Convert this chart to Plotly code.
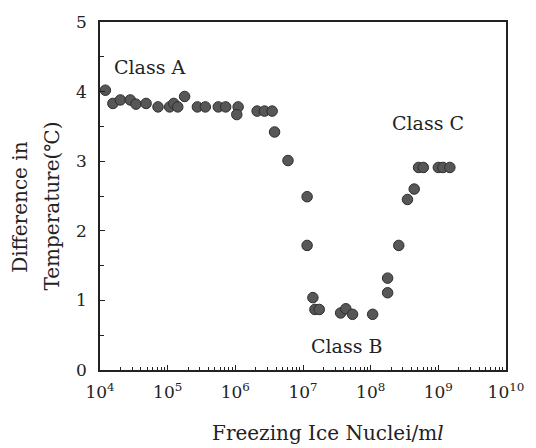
import plotly.graph_objects as go

# Freezing ice nuclei per ml
nuclei = [1.20e4, 1.55e4, 2.0e4, 2.8e4, 3.4e4, 4.8e4, 7.2e4, 1.07e5, 1.23e5, 1.41e5,
          1.78e5, 2.75e5, 3.6e5, 5.6e5, 7.2e5, 1.10e6, 1.05e6, 2.1e6, 2.7e6, 3.5e6,
          3.8e6, 6.0e6, 1.15e7, 1.15e7, 1.4e7, 1.5e7, 1.74e7, 3.6e7, 4.3e7, 5.4e7,
          1.07e8, 1.78e8, 1.78e8, 2.6e8, 3.5e8, 4.4e8, 5.1e8, 6.0e8, 1.0e9, 1.17e9, 1.48e9]
# Difference in temperature (deg C)
temp_diff = [4.02, 3.83, 3.88, 3.88, 3.82, 3.83, 3.78, 3.78, 3.83, 3.78,
             3.93, 3.78, 3.78, 3.78, 3.78, 3.78, 3.67, 3.72, 3.72, 3.72,
             3.42, 3.01, 2.49, 1.79, 1.04, 0.87, 0.87, 0.82, 0.88, 0.80,
             0.80, 1.32, 1.11, 1.79, 2.45, 2.60, 2.91, 2.91, 2.91, 2.91, 2.91]

x_tick_vals = [1e4, 1e5, 1e6, 1e7, 1e8, 1e9, 1e10]
x_tick_text = ["10<sup>4</sup>", "10<sup>5</sup>", "10<sup>6</sup>", "10<sup>7</sup>",
               "10<sup>8</sup>", "10<sup>9</sup>", "10<sup>10</sup>"]
x_minor_vals = [m * 10 ** e for e in range(4, 10) for m in range(2, 10)]

class_labels = ["Class A", "Class B", "Class C"]
class_x = [4.73, 7.65, 8.85]   # log10 positions
class_y = [4.35, 0.35, 3.55]

FONT = "DejaVu Serif"
INK = "#222222"

fig = go.Figure()
fig.add_trace(go.Scatter(
    x=nuclei, y=temp_diff, mode="markers",
    marker=dict(size=10.5, color="#575757", line=dict(color="#2e2e2e", width=1)),
    showlegend=False,
))

for t, xx, yy in zip(class_labels, class_x, class_y):
    fig.add_annotation(x=xx, y=yy, xref="x", yref="y", text=t, showarrow=False,
                       font=dict(family=FONT, size=19, color=INK))

# axis titles
fig.add_annotation(x=-0.196, y=0.47, xref="paper", yref="paper", text="Difference in",
                   textangle=-90, showarrow=False, xanchor="center", yanchor="middle",
                   font=dict(family=FONT, size=20, color=INK))
fig.add_annotation(x=-0.118, y=0.47, xref="paper", yref="paper", text="Temperature(℃)",
                   textangle=-90, showarrow=False, xanchor="center", yanchor="middle",
                   font=dict(family=FONT, size=20, color=INK))
fig.add_annotation(x=0.561, y=-0.18, xref="paper", yref="paper", text="Freezing Ice Nuclei/m<i>l</i>",
                   showarrow=False, xanchor="center", yanchor="middle",
                   font=dict(family=FONT, size=20, color=INK))

fig.update_xaxes(
    type="log", range=[4, 10],
    tickmode="array", tickvals=x_tick_vals, ticktext=x_tick_text,
    ticks="inside", ticklen=5, tickwidth=1, tickcolor=INK,
    minor=dict(tickmode="array", tickvals=x_minor_vals, ticks="inside", ticklen=3,
               tickwidth=1, tickcolor=INK, showgrid=False),
    showline=True, linecolor=INK, linewidth=1.5, mirror=True,
    showgrid=False, zeroline=False,
    tickfont=dict(family=FONT, size=17, color=INK), ticklabelstandoff=6,
)
fig.update_yaxes(
    range=[0, 5], dtick=1,
    ticks="inside", ticklen=5, tickwidth=1, tickcolor=INK,
    minor=dict(dtick=0.5, ticks="inside", ticklen=4, tickwidth=1, tickcolor=INK, showgrid=False),
    showline=True, linecolor=INK, linewidth=1.5, mirror=True,
    showgrid=False, zeroline=False,
    tickfont=dict(family=FONT, size=17, color=INK), ticklabelstandoff=8,
)
fig.update_layout(
    width=536, height=448,
    margin=dict(l=100, r=28, t=21, b=78),
    paper_bgcolor="white", plot_bgcolor="white",
    font=dict(family=FONT, color=INK),
)
fig.write_html("out.html", config={"displayModeBar": False},
               post_script="document.body.style.margin='0';document.body.style.overflow='hidden';")
